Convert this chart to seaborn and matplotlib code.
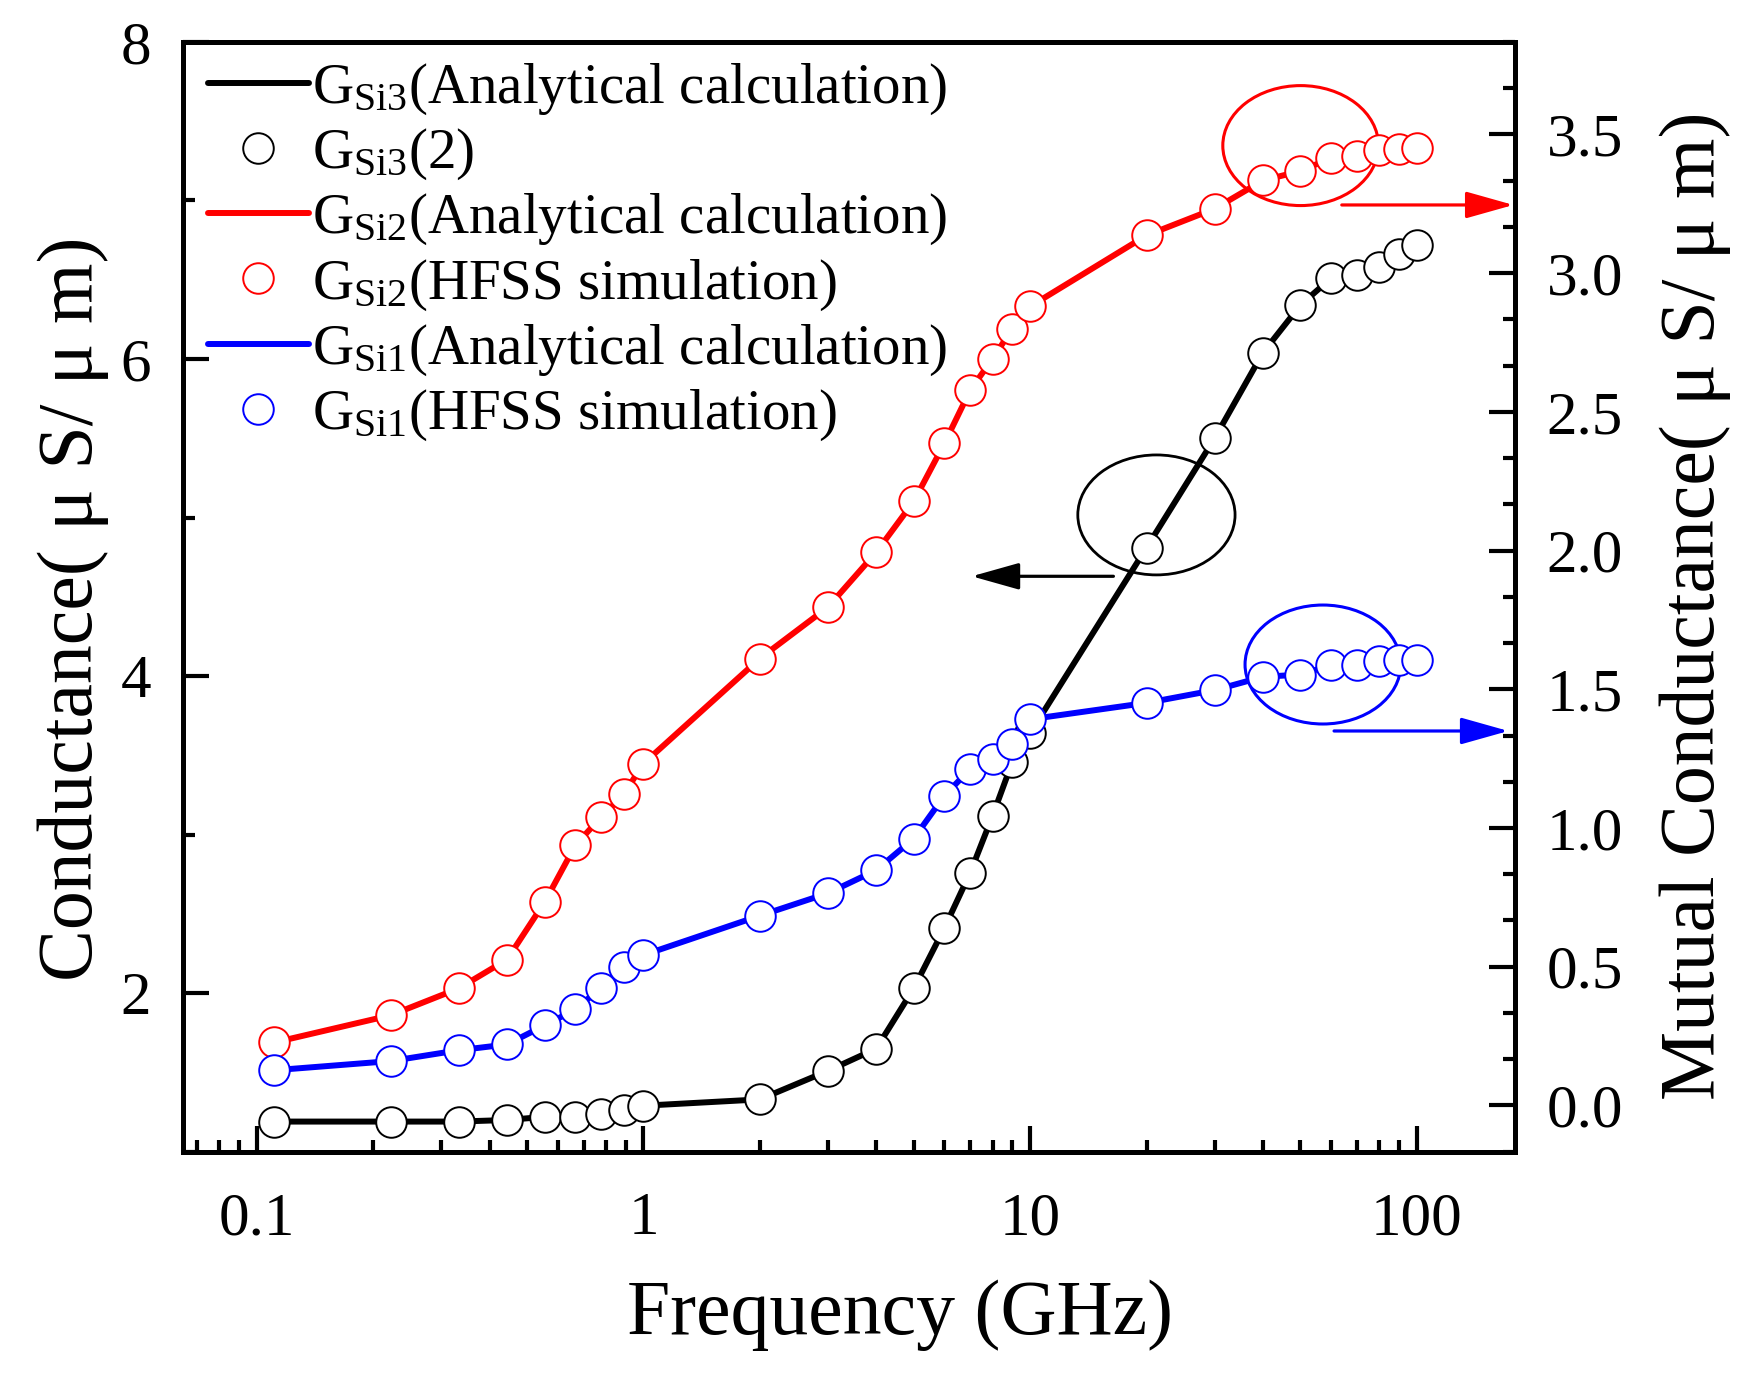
import numpy as np
import matplotlib
matplotlib.use("Agg")
import matplotlib.pyplot as plt
import seaborn as sns
from matplotlib.patches import Ellipse
from matplotlib.lines import Line2D
from matplotlib.ticker import (MultipleLocator, FixedLocator, FixedFormatter,
                               LogLocator, NullFormatter)

# ---------------- data ----------------
freq_ghz = [0.111, 0.222, 0.333, 0.444, 0.556, 0.667, 0.778, 0.889, 1.0,
            2, 3, 4, 5, 6, 7, 8, 9, 10,
            20, 30, 40, 50, 60, 70, 80, 90, 100]

# left axis: Conductance (uS/um)
g_si3 = [1.19, 1.19, 1.19, 1.20, 1.22, 1.22, 1.24, 1.26, 1.29,
         1.33, 1.51, 1.65, 2.03, 2.41, 2.76, 3.12, 3.46, 3.64,
         4.81, 5.50, 6.04, 6.34, 6.51, 6.53, 6.58, 6.66, 6.72]

# right axis: Mutual Conductance (uS/um)
g_si2 = [0.227, 0.325, 0.422, 0.526, 0.734, 0.938, 1.040, 1.121, 1.232,
         1.611, 1.796, 1.994, 2.177, 2.386, 2.578, 2.692, 2.800, 2.880,
         3.136, 3.232, 3.334, 3.368, 3.415, 3.421, 3.443, 3.449, 3.452]

g_si1 = [0.127, 0.160, 0.199, 0.220, 0.289, 0.346, 0.425, 0.499, 0.542,
         0.684, 0.765, 0.848, 0.962, 1.116, 1.213, 1.248, 1.304, 1.392,
         1.451, 1.497, 1.545, 1.553, 1.587, 1.589, 1.601, 1.605, 1.605]

x_tick_values = [0.1, 1, 10, 100]
x_tick_labels = ["0.1", "1", "10", "100"]
right_tick_values = [0.0, 0.5, 1.0, 1.5, 2.0, 2.5, 3.0, 3.5]
right_tick_labels = ["0.0", "0.5", "1.0", "1.5", "2.0", "2.5", "3.0", "3.5"]

legend_labels = [
    r"G$_{Si3}$(Analytical calculation)",
    r"G$_{Si3}$(2)",
    r"G$_{Si2}$(Analytical calculation)",
    r"G$_{Si2}$(HFSS simulation)",
    r"G$_{Si1}$(Analytical calculation)",
    r"G$_{Si1}$(HFSS simulation)",
]

# ---------------- style ----------------
sns.set_style("ticks")
plt.rcParams["font.family"] = ["Liberation Serif", "DejaVu Serif"]
plt.rcParams["mathtext.default"] = "regular"
for k in ["text.color", "axes.labelcolor", "xtick.color", "ytick.color",
          "axes.edgecolor"]:
    plt.rcParams[k] = "black"

LW = 4.3
MS = 22
MEW = 1.4
TICK_FS = 44
LABEL_FS = 56

fig = plt.figure(figsize=(17.5, 13.75), dpi=100)
ax = fig.add_axes([0.1046, 0.1624, 0.7609, 0.8071])
ax.set_xscale("log")
ax2 = ax.twinx()
ax2.set_xscale("log")

sns.lineplot(x=freq_ghz, y=g_si3, ax=ax, color="black", linewidth=LW,
             marker="o", markersize=MS, markerfacecolor="white",
             mec="black", mew=MEW, estimator=None, sort=False)
sns.lineplot(x=freq_ghz, y=g_si2, ax=ax2, color="red", linewidth=LW,
             marker="o", markersize=MS, markerfacecolor="white",
             mec="red", mew=MEW, estimator=None, sort=False)
sns.lineplot(x=freq_ghz, y=g_si1, ax=ax2, color="blue", linewidth=LW,
             marker="o", markersize=MS, markerfacecolor="white",
             mec="blue", mew=MEW, estimator=None, sort=False)

# ---------------- axes ----------------
ax.set_xlim(0.0645, 179)
ax.set_ylim(1, 8)
ax2.set_ylim(-1 / 6, 23 / 6)

ax.xaxis.set_major_locator(FixedLocator(x_tick_values))
ax.xaxis.set_major_formatter(FixedFormatter(x_tick_labels))
ax.xaxis.set_minor_locator(LogLocator(base=10, subs=np.arange(2, 10), numticks=30))
ax.xaxis.set_minor_formatter(NullFormatter())

ax.yaxis.set_major_locator(MultipleLocator(2))
ax.yaxis.set_minor_locator(MultipleLocator(1))

ax2.yaxis.set_major_locator(FixedLocator(right_tick_values))
ax2.yaxis.set_major_formatter(FixedFormatter(right_tick_labels))
ax2.yaxis.set_minor_locator(MultipleLocator(1 / 6))

ax.tick_params(axis="x", which="major", direction="in", length=18.7, width=3,
               pad=29, labelsize=TICK_FS, top=False)
ax.tick_params(axis="x", which="minor", direction="in", length=8.6, width=3,
               top=False)
ax.tick_params(axis="y", which="major", direction="in", length=18.7, width=3,
               pad=23, labelsize=TICK_FS, right=False)
ax.tick_params(axis="y", which="minor", direction="in", length=8.6, width=3,
               right=False)
ax2.tick_params(axis="y", which="major", direction="in", length=18.7, width=3,
                pad=23, labelsize=TICK_FS, left=False, right=True)
ax2.tick_params(axis="y", which="minor", direction="in", length=8.6, width=3,
                left=False, right=True)

for a in (ax, ax2):
    for s in a.spines.values():
        s.set_linewidth(3.6)
        s.set_color("black")

ax.set_xlabel("Frequency (GHz)", fontsize=LABEL_FS)
ax.xaxis.set_label_coords(0.5385, -0.1156)
ax.set_ylabel("Conductance( μ S/ μ m)", fontsize=LABEL_FS)
ax.yaxis.set_label_coords(-0.0556, 0.4894)
ax2.set_ylabel("Mutual Conductance( μ S/ μ m)", fontsize=LABEL_FS)
ax2.yaxis.set_label_coords(1.1085, 0.4918)

# ---------------- annotations ----------------
ax.add_patch(Ellipse((0.7310, 0.5738), 0.1181, 0.1081, transform=ax.transAxes,
                     fill=False, ec="black", lw=2.0))
ax2.add_patch(Ellipse((0.8393, 0.9066), 0.1169, 0.1081, transform=ax2.transAxes,
                      fill=False, ec="red", lw=2.2))
ax2.add_patch(Ellipse((0.8560, 0.4390), 0.1169, 0.1072, transform=ax2.transAxes,
                      fill=False, ec="blue", lw=2.2))

arrow_style = "-|>,head_length=29.5,head_width=8.3"
ax.annotate("", xy=(0.5923, 0.5185), xytext=(0.6987, 0.5185),
            xycoords="axes fraction", textcoords="axes fraction",
            arrowprops=dict(arrowstyle=arrow_style, mutation_scale=1,
                            color="black", lw=2.3, shrinkA=0, shrinkB=0))
ax2.annotate("", xy=(0.9991, 0.8531), xytext=(0.8702, 0.8531),
             xycoords="axes fraction", textcoords="axes fraction",
             arrowprops=dict(arrowstyle=arrow_style, mutation_scale=1,
                             color="red", lw=2.3, shrinkA=0, shrinkB=0))
ax2.annotate("", xy=(0.9953, 0.3791), xytext=(0.8644, 0.3791),
             xycoords="axes fraction", textcoords="axes fraction",
             arrowprops=dict(arrowstyle=arrow_style, mutation_scale=1,
                             color="blue", lw=2.3, shrinkA=0, shrinkB=0))

# ---------------- legend ----------------
def line_handle(c):
    return Line2D([], [], color=c, lw=LW)

def marker_handle(c):
    return Line2D([], [], ls="none", marker="o", markersize=MS,
                  markerfacecolor="white", markeredgecolor=c, markeredgewidth=MEW)

handles = [line_handle("black"), marker_handle("black"),
           line_handle("red"), marker_handle("red"),
           line_handle("blue"), marker_handle("blue")]

ax2.legend(handles, legend_labels, loc="upper left",
           bbox_to_anchor=(0.0184, 0.982), bbox_transform=ax2.transAxes,
           frameon=False, fontsize=41, handlelength=1.78, handletextpad=0.05,
           labelspacing=0.17, borderpad=0, borderaxespad=0, numpoints=1)

fig.savefig("out.png", dpi=100)
